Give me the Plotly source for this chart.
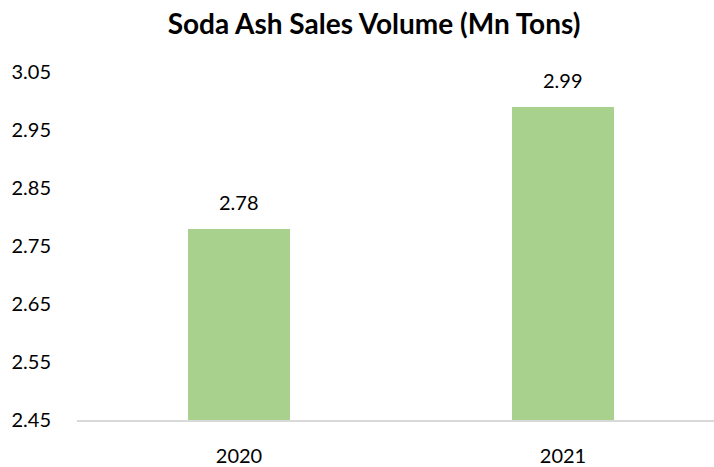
import plotly.graph_objects as go

years = ["2020", "2021"]
volumes = [2.78, 2.99]
y_ticks = [2.45, 2.55, 2.65, 2.75, 2.85, 2.95, 3.05]
y_tick_labels = ["2.45", "2.55", "2.65", "2.75", "2.85", "2.95", "3.05"]

FONT = "Lato, Carlito, Calibri, sans-serif"
BAR_COLOR = "#A9D18E"

fig = go.Figure()
fig.add_trace(go.Bar(
    x=years,
    y=volumes,
    base=0,
    marker=dict(color=BAR_COLOR, line=dict(width=0)),
    width=0.315,
    hoverinfo="x+y",
))

# value labels above each bar
for i, v in enumerate(volumes):
    fig.add_annotation(
        x=i, y=v, xref="x", yref="y",
        text=f"{v:.2f}", showarrow=False,
        yanchor="bottom", yshift=13,
        font=dict(family=FONT, size=20, color="#000000"),
    )

fig.update_layout(
    width=714, height=467,
    margin=dict(l=77, r=0, t=72, b=43),
    paper_bgcolor="white", plot_bgcolor="white",
    showlegend=False,
    bargap=0,
    title=dict(
        text="<b>Soda Ash Sales Volume (Mn Tons)</b>",
        x=374 / 714, xref="container", xanchor="center",
        y=1 - 24 / 467, yref="container", yanchor="middle",
        font=dict(family=FONT, size=28, color="#000000"),
    ),
    xaxis=dict(
        type="category",
        range=[-0.5, 1.466],
        showgrid=False,
        showline=True, linecolor="#D9D9D9", linewidth=2,
        ticks="outside", ticklen=17, tickcolor="rgba(0,0,0,0)",
        tickfont=dict(family=FONT, size=20, color="#000000"),
        fixedrange=True,
    ),
    yaxis=dict(
        range=[2.45, 3.05],
        tickvals=y_ticks, ticktext=y_tick_labels,
        showgrid=False, zeroline=False, showline=False,
        ticks="outside", ticklen=21, tickcolor="rgba(0,0,0,0)",
        tickfont=dict(family=FONT, size=20, color="#000000"),
        fixedrange=True,
    ),
)

fig.write_html("out.html")
